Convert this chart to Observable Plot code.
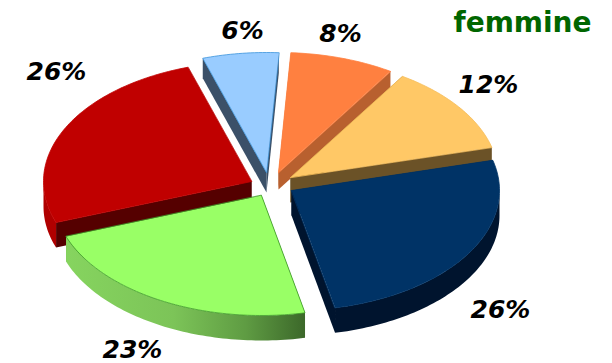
<!DOCTYPE html>
<html>
<head>
<meta charset="utf-8">
<style>html,body{margin:0;background:#fff}svg{display:block}</style>
<script src="https://cdn.jsdelivr.net/npm/d3@7"></script>
<script src="https://cdn.jsdelivr.net/npm/@observablehq/plot@0.6"></script>
</head>
<body>
<script>
// data, clockwise from the navy slice (shares, labels as printed)
const categories = ["navy", "green", "red", "lightblue", "orange", "yellow"];
const values = [25.7, 22.8, 25.6, 5.9, 8.1, 11.9];
const valueLabels = ["26%", "23%", "26%", "6%", "8%", "12%"];
const title = "femmine";

// styling
const faceColors = ["#003366", "#99ff66", "#c00000", "#99ccff", "#ff8040", "#ffc866"];
const cutColors = ["#00142e", "#4f8a35", "#550000", "#3b5068", "#b8602f", "#6b5227"];
const rimColors = ["#00142e", "url(#greenRim)", "#b00000", "#3b5068", "#b8602f", "#6b5227"];
const edgeColors = ["#003366", "#3f9a2a", "#c00000", "#3c94dc", "#ff8040", "#f5bc58"];

// layout in pixels
const cx = 272, cy = 185, rx = 208, ry = 120;
const apexX = [291, 261, 251, 266, 278, 290];
const apexY = [190, 195, 181, 172, 172, 177];
const depths = [25, 25, 25, 20, 17, 25];
const labelX = [500, 132, 56, 242, 340, 488];
const labelY = [309, 349, 71, 30, 33, 84];
const drawOrder = [3, 4, 5, 2, 0, 1];
const startDeg = -14.6;

const ux = px => (px - cx) / rx, uy = px => (px - cy) / ry;

const arcs = d3.pie().sort(null)
  .startAngle(startDeg * Math.PI / 180)
  .endAngle((startDeg + 360) * Math.PI / 180)(values);

function sliceMarks(i) {
  const {startAngle: a0, endAngle: a1} = arcs[i];
  const ax = ux(apexX[i]), ay = uy(apexY[i]), d = depths[i] / ry;
  const rim = (t, off = 0) => ({x: ax + Math.cos(t), y: ay + Math.sin(t) + off});
  const sweep = (s, e) => {
    const n = Math.max(2, Math.ceil(Math.abs(e - s) / 0.02));
    return d3.range(n + 1).map(k => s + (e - s) * k / n);
  };
  const apex = (off = 0) => ({x: ax, y: ay + off});
  const poly = (pts, fill, stroke = "none", strokeWidth = 0) =>
    Plot.line(pts, {x: "x", y: "y", curve: "linear-closed", fill, stroke, strokeWidth});
  const out = [];
  out.push(poly([apex(), rim(a0), rim(a0, d), apex(d)], cutColors[i]));
  out.push(poly([apex(), rim(a1), rim(a1, d), apex(d)], cutColors[i]));
  // the parts of the outer rim that face the viewer
  for (const [lo, hi] of [[0, Math.PI], [2 * Math.PI, 3 * Math.PI]]) {
    const s = Math.max(a0, lo), e = Math.min(a1, hi);
    if (e > s) {
      const ts = sweep(s, e);
      out.push(poly([...ts.map(t => rim(t)), ...ts.slice().reverse().map(t => rim(t, d))], rimColors[i]));
    }
  }
  out.push(poly([apex(), ...sweep(a0, a1).map(t => rim(t))], faceColors[i], edgeColors[i], 0.8));
  return out;
}

const gradient = () => {
  const ns = "http://www.w3.org/2000/svg";
  const defs = document.createElementNS(ns, "defs");
  const g = document.createElementNS(ns, "linearGradient");
  g.setAttribute("id", "greenRim");
  [["0%", "#86d45f"], ["45%", "#7cc458"], ["75%", "#5f9c43"], ["100%", "#3c682a"]].forEach(([o, c]) => {
    const s = document.createElementNS(ns, "stop");
    s.setAttribute("offset", o);
    s.setAttribute("stop-color", c);
    g.appendChild(s);
  });
  defs.appendChild(g);
  return defs;
};

const labels = valueLabels.map((text, i) => ({text, x: ux(labelX[i]), y: uy(labelY[i])}));

const chart = Plot.plot({
  width: 612,
  height: 363,
  margin: 0,
  style: {background: "#fff"},
  x: {domain: [-1, 1], range: [cx - rx, cx + rx], axis: null},
  y: {domain: [-1, 1], range: [cy - ry, cy + ry], axis: null},
  marks: [
    gradient,
    ...drawOrder.flatMap(sliceMarks),
    Plot.text(labels, {
      x: "x", y: "y", text: "text",
      fontFamily: "DejaVu Sans", fontSize: 25, fontWeight: "bold", fontStyle: "italic",
      fill: "#000"
    }),
    Plot.text([title], {
      x: [ux(522)], y: [uy(23)], text: d => d,
      fontFamily: "DejaVu Sans", fontSize: 28, fontWeight: "bold",
      fill: "#006600"
    })
  ]
});
document.body.appendChild(chart);
</script>
</body>
</html>
